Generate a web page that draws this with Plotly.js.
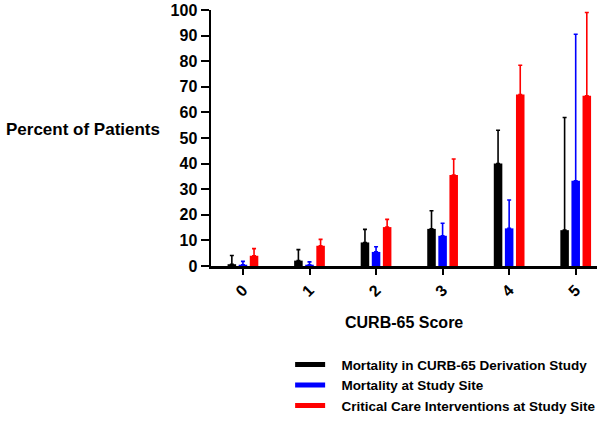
<!DOCTYPE html>
<html>
<head>
<meta charset="utf-8">
<script src="https://cdn.plot.ly/plotly-3.0.1.min.js"></script>
<style>
  html, body { margin: 0; padding: 0; background: #fff; }
  #plot { width: 607px; height: 422px; }
</style>
</head>
<body>
<div id="plot"></div>
<script>
// CURB-65 score categories
const scores = ['0', '1', '2', '3', '4', '5'];

// mean values (%)
const derivationMortality = [0.7, 2.1, 9.2, 14.5, 40, 14];
const siteMortality = [0.5, 0.5, 5.5, 11.8, 14.7, 33.3];
const siteCriticalCare = [4, 7.9, 15.2, 35.5, 67, 66.5];

// upper error bar ends (%)
const derivationUpper = [4.1, 6.4, 14.3, 21.6, 53, 58];
const siteMortUpper = [1.8, 1.6, 7.5, 16.7, 25.8, 90.5];
const siteCritUpper = [6.8, 10.4, 18.2, 41.8, 78.4, 99];

const names = [
    'Mortality in CURB-65 Derivation Study',
    'Mortality at Study Site',
    'Critical Care Interventions at Study Site'
];
const colors = ['#000000', '#0000ff', '#ff0000'];

function barTrace(vals, upper, i) {
    return {
        x: scores,
        y: vals,
        type: 'bar',
        name: names[i],
        marker: { color: colors[i] },
        showlegend: false,
        error_y: {
            type: 'data',
            symmetric: false,
            array: upper.map((u, k) => u - vals[k]),
            arrayminus: vals.map(() => 0),
            color: colors[i],
            thickness: 1.6,
            width: 2
        },
        hoverinfo: 'x+y'
    };
}

// legend entries drawn as thick lines like the original
function legendTrace(i) {
    return {
        x: [null], y: [null],
        type: 'scatter',
        mode: 'lines',
        name: '\u00a0\u00a0\u00a0' + names[i],
        line: { color: colors[i], width: 5 }
    };
}

const data = [
    barTrace(derivationMortality, derivationUpper, 0),
    barTrace(siteMortality, siteMortUpper, 1),
    barTrace(siteCriticalCare, siteCritUpper, 2),
    legendTrace(0), legendTrace(1), legendTrace(2)
];

const bold = { family: 'Liberation Sans, Arial, sans-serif', color: '#000', weight: 'bold' };

const layout = {
    width: 607,
    height: 422,
    margin: { l: 211, r: 10, t: 10, b: 156, autoexpand: false },
    paper_bgcolor: '#fff',
    plot_bgcolor: '#fff',
    barmode: 'group',
    bargap: 0.5,
    bargroupgap: 0.23,
    font: bold,
    xaxis: {
        type: 'category',
        range: [-0.48, 5.32],
        automargin: false,
        showline: true,
        linecolor: '#000',
        linewidth: 2.5,
        ticks: 'outside',
        ticklen: 6,
        tickwidth: 2,
        tickcolor: '#000',
        tickangle: -45,
        tickfont: Object.assign({}, bold, { size: 16 }),
        showgrid: false,
        zeroline: false
    },
    yaxis: {
        range: [0, 100],
        dtick: 10,
        automargin: false,
        showline: true,
        linecolor: '#000',
        linewidth: 2.5,
        ticks: 'outside',
        ticklen: 8,
        tickwidth: 2,
        tickcolor: '#000',
        tickfont: Object.assign({}, bold, { size: 16 }),
        showgrid: false,
        zeroline: false
    },
    annotations: [{
        text: 'Percent of Patients',
        xref: 'paper', yref: 'paper',
        x: -0.536, y: 0.535,
        xanchor: 'left', yanchor: 'middle',
        showarrow: false,
        font: Object.assign({}, bold, { size: 17 })
    }, {
        text: 'CURB-65 Score',
        xref: 'paper', yref: 'paper',
        x: 0.5, y: -0.219,
        xanchor: 'center', yanchor: 'middle',
        showarrow: false,
        font: Object.assign({}, bold, { size: 16 })
    }],
    showlegend: true,
    legend: {
        x: 0.205, y: -0.325,
        xanchor: 'left', yanchor: 'top',
        font: Object.assign({}, bold, { size: 13.5 }),
        tracegroupgap: 0,
        itemwidth: 30
    }
};

Plotly.newPlot('plot', data, layout, { displayModeBar: false, staticPlot: true });
</script>
</body>
</html>
